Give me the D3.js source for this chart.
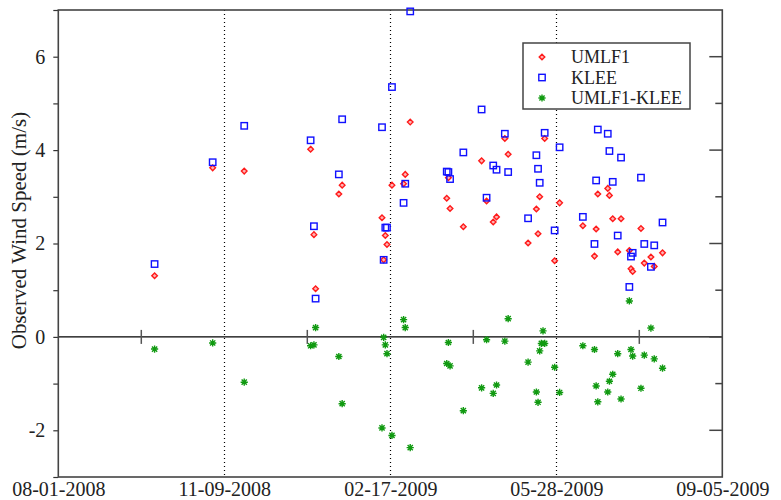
<!DOCTYPE html>
<html>
<head>
<meta charset="utf-8">
<script src="https://cdn.jsdelivr.net/npm/d3@7"></script>
<style>
body { margin: 0; background: #fff; }
text { font-family: "Liberation Serif", "Times New Roman", serif; fill: #222; }
</style>
</head>
<body>
<div id="chart"></div>
<script>
// axis ticks
var tickDates = ["2008-08-01", "2008-11-09", "2009-02-17", "2009-05-28", "2009-09-05"];
var minorDates = ["2008-09-20", "2008-12-29", "2009-04-08", "2009-07-17"];
var yTicks = [-2, 0, 2, 4, 6];
var yMinor = [-3, -2, -1, 0, 1, 2, 3, 4, 5, 6, 7];

// observation dates (UMLF1 and KLEE)
var obsDates = ["2008-09-28", "2008-11-02", "2008-11-21", "2008-12-31", "2009-01-02", "2009-01-03",
  "2009-01-17", "2009-01-19", "2009-02-12", "2009-02-13", "2009-02-14", "2009-02-15", "2009-02-18",
  "2009-02-25", "2009-02-26", "2009-03-01", "2009-03-23", "2009-03-24", "2009-03-25", "2009-04-02",
  "2009-04-13", "2009-04-16", "2009-04-20", "2009-04-22", "2009-04-27", "2009-04-29", "2009-05-11",
  "2009-05-16", "2009-05-17", "2009-05-18", "2009-05-21", "2009-05-27", "2009-05-30", "2009-06-13",
  "2009-06-20", "2009-06-21", "2009-06-22", "2009-06-28", "2009-06-29", "2009-07-01", "2009-07-04",
  "2009-07-06", "2009-07-11", "2009-07-12", "2009-07-13", "2009-07-18", "2009-07-20", "2009-07-24",
  "2009-07-26", "2009-07-31"];
var umlfVals = [1.31, 3.62, 3.55, 4.02, 2.19, 1.03,
  3.06, 3.25, 2.55, 1.65, 2.17, 1.98, 3.25,
  3.28, 3.48, 4.60, 2.97, 3.41, 2.75, 2.36,
  3.77, 2.91, 2.46, 2.57, 4.25, 3.91, 2.01,
  2.74, 2.21, 3.00, 4.25, 1.63, 2.87, 2.38,
  1.73, 2.31, 3.06, 3.18, 3.03, 2.53, 1.82,
  2.53, 1.85, 1.46, 1.40, 2.32, 1.58, 1.71,
  1.51, 1.80];
var kleeVals = [1.56, 3.74, 4.52, 4.21, 2.37, 0.82,
  3.48, 4.66, 4.49, 1.65, 2.34, 2.34, 5.35,
  2.87, 3.28, 6.97, 3.54, 3.53, 3.38, 3.95,
  4.87, 2.98, 3.67, 3.58, 4.35, 3.53, 2.54,
  3.89, 3.60, 3.30, 4.37, 2.28, 4.06, 2.57,
  1.99, 3.35, 4.44, 4.35, 3.98, 3.32, 2.17,
  3.84, 1.07, 1.72, 1.80, 3.41, 1.99, 1.50,
  1.96, 2.45];

// difference series
var diffDates = ["2008-09-28", "2008-11-02", "2008-11-21", "2008-12-31", "2009-01-02", "2009-01-03",
  "2009-01-17", "2009-01-19", "2009-02-12", "2009-02-13", "2009-02-14", "2009-02-15", "2009-02-18",
  "2009-02-25", "2009-02-26", "2009-03-01", "2009-03-23", "2009-03-24", "2009-03-25", "2009-04-02",
  "2009-04-13", "2009-04-16", "2009-04-20", "2009-04-22", "2009-04-27", "2009-04-29", "2009-05-11",
  "2009-05-16", "2009-05-17", "2009-05-18", "2009-05-19", "2009-05-20", "2009-05-21", "2009-05-27",
  "2009-05-30", "2009-06-13", "2009-06-20", "2009-06-21", "2009-06-22", "2009-06-28", "2009-06-29",
  "2009-07-01", "2009-07-04", "2009-07-06", "2009-07-11", "2009-07-12", "2009-07-13", "2009-07-18",
  "2009-07-20", "2009-07-24", "2009-07-26", "2009-07-31"];
var diffVals = [-0.26, -0.13, -0.97, -0.19, -0.17, 0.20,
  -0.42, -1.43, -1.95, -0.01, -0.17, -0.36, -2.11,
  0.37, 0.20, -2.37, -0.57, -0.12, -0.62, -1.58,
  -1.09, -0.06, -1.21, -1.03, -0.09, 0.39, -0.54,
  -1.18, -1.40, -0.30, -0.14, 0.13, -0.14, -0.65,
  -1.19, -0.19, -0.27, -1.05, -1.39, -1.18, -0.95,
  -0.80, -0.36, -1.33, 0.77, -0.27, -0.41, -1.10,
  -0.39, 0.19, -0.47, -0.67];

var seriesNames = ["UMLF1", "KLEE", "UMLF1-KLEE"];

var parse = d3.timeParse("%Y-%m-%d");
var W = 781, H = 500;
var mLeft = 58.3, mRight = 722.3, mTop = 10, mBottom = 477;

var svg = d3.select("#chart").append("svg")
  .attr("width", W).attr("height", H);

var x = d3.scaleTime()
  .domain([parse(tickDates[0]), parse(tickDates[tickDates.length - 1])])
  .range([mLeft, mRight]);
var y = d3.scaleLinear().domain([-3, 7]).range([mBottom, mTop]);

// dotted grid lines at the inner date ticks
svg.append("g").selectAll("line")
  .data(tickDates.slice(1, -1))
  .enter().append("line")
    .attr("x1", d => Math.round(x(parse(d))) + 0.5).attr("x2", d => Math.round(x(parse(d))) + 0.5)
    .attr("y1", mTop).attr("y2", mBottom)
    .attr("stroke", "#000").attr("stroke-width", 1.2)
    .attr("stroke-dasharray", "1,3");

// zero line with its small ticks
svg.append("line")
  .attr("x1", mLeft).attr("x2", mRight)
  .attr("y1", y(0)).attr("y2", y(0))
  .attr("stroke", "#000").attr("stroke-width", 1.3);
svg.append("g").selectAll("line")
  .data(minorDates)
  .enter().append("line")
    .attr("x1", d => x(parse(d))).attr("x2", d => x(parse(d)))
    .attr("y1", y(0) - 7).attr("y2", y(0) + 7)
    .attr("stroke", "#555").attr("stroke-width", 1.5);

// x tick labels
var xAxis = svg.append("g")
  .attr("transform", "translate(0," + mBottom + ")")
  .call(d3.axisBottom(x).tickValues(tickDates.map(parse))
    .tickFormat(d3.timeFormat("%m-%d-%Y")).tickSize(0).tickPadding(5));
xAxis.select(".domain").remove();
xAxis.selectAll("text").style("font-size", "20px").attr("fill", "#222");

// left axis: labels and short outer ticks
var yAxis = svg.append("g")
  .attr("transform", "translate(" + mLeft + ",0)")
  .call(d3.axisLeft(y).tickValues(yMinor).tickSize(5).tickPadding(8)
    .tickFormat(d => yTicks.indexOf(d) >= 0 ? d : ""));
yAxis.select(".domain").remove();
yAxis.selectAll("line").attr("stroke", "#333").attr("stroke-width", 1.2);
yAxis.selectAll("text").style("font-size", "20px").attr("fill", "#222");

// right axis: inner ticks, long at labelled values
svg.append("g").selectAll("line")
  .data(yMinor.slice(1, -1))
  .enter().append("line")
    .attr("x1", mRight).attr("x2", d => mRight - (yTicks.indexOf(d) >= 0 ? 13 : 7))
    .attr("y1", d => y(d)).attr("y2", d => y(d))
    .attr("stroke", "#444").attr("stroke-width", 1.5);

// frame
svg.append("rect")
  .attr("x", mLeft).attr("y", mTop)
  .attr("width", mRight - mLeft).attr("height", mBottom - mTop)
  .attr("fill", "none").attr("stroke", "#444").attr("stroke-width", 1.6);

svg.append("text")
  .attr("transform", "translate(26," + ((mTop + mBottom) / 2 - 13) + ") rotate(-90)")
  .attr("text-anchor", "middle")
  .style("font-size", "21px")
  .text("Observed Wind Speed (m/s)");

// markers
function diamond(g) {
  g.append("path").attr("d", "M0,-2.8L2.8,0L0,2.8L-2.8,0Z")
    .attr("fill", "#ffb3b3").attr("stroke", "#ff1a1a").attr("stroke-width", 1.4);
}
function square(g) {
  g.append("rect").attr("x", -3.2).attr("y", -3.2).attr("width", 6.4).attr("height", 6.4)
    .attr("fill", "none").attr("stroke", "#1010ff").attr("stroke-width", 1.4);
}
function star(g) {
  var r = 3.6, c = 2.6;
  g.append("path")
    .attr("d", "M" + (-r) + ",0L" + r + ",0M0," + (-r) + "L0," + r +
      "M" + (-c) + "," + (-c) + "L" + c + "," + c + "M" + (-c) + "," + c + "L" + c + "," + (-c))
    .attr("stroke", "#119a11").attr("stroke-width", 1.4).attr("fill", "none");
}

function plot(dates, vals, shape) {
  svg.append("g").selectAll("g")
    .data(dates.map((d, i) => ({ date: parse(d), v: vals[i] })))
    .enter().append("g")
      .attr("transform", d => "translate(" + x(d.date) + "," + y(d.v) + ")")
      .each(function() { shape(d3.select(this)); });
}
plot(obsDates, umlfVals, diamond);
plot(obsDates, kleeVals, square);
plot(diffDates, diffVals, star);

// legend
var legend = svg.append("g");
legend.append("rect")
  .attr("x", 523).attr("y", 43).attr("width", 167).attr("height", 66)
  .attr("fill", "#fff").attr("stroke", "#444").attr("stroke-width", 1.5);
var shapes = [diamond, square, star];
seriesNames.forEach(function(name, i) {
  var row = legend.append("g").attr("transform", "translate(0," + (57 + i * 20.5) + ")");
  shapes[i](row.append("g").attr("transform", "translate(542,0)"));
  row.append("text").attr("x", 571).attr("y", 6).style("font-size", "18px").text(name);
});
</script>
</body>
</html>
